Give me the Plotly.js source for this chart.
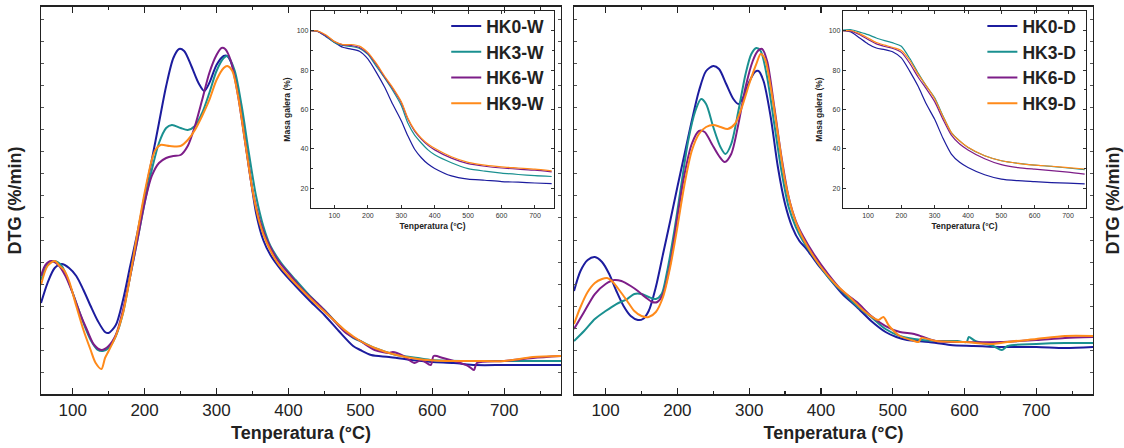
<!DOCTYPE html>
<html>
<head>
<meta charset="utf-8">
<script src="https://cdn.plot.ly/plotly-3.0.1.min.js"></script>
<style>html,body{margin:0;padding:0;background:#fff;}#chart{width:1124px;height:448px;}</style>
</head>
<body>
<div id="chart"></div>
<script>
// ---------- DTG, W series (left panel) ----------
const HK0W_T = [56,65,75,85,95,105,115,125,135,145,150,160,170,180,190,200,210,220,230,240,248,255,265,275,283,290,300,310,315,325,335,345,355,365,375,390,410,430,450,470,490,500,515,540,570,600,630,660,700,740,780];
const HK0W_DTG = [91,111,126,130,126,118,104,88,73,62,61,69,94,128,161,198,234,271,308,336,345,343,328,311,303,311,329,338,338,321,278,228,181,154,139,124,108,93,79,63,48,44,39,37,34,32,31,29,29,29,29];
const HK3W_T = [56,65,75,85,95,105,115,125,135,142,150,160,170,180,190,200,210,220,230,238,250,260,270,280,290,300,310,315,325,335,345,355,365,375,390,410,430,450,470,490,500,520,550,580,600,650,700,740,780];
const HK3W_DTG = [114,129,133,128,111,91,71,54,44,43,46,58,81,118,154,191,224,251,266,269,266,264,268,281,301,323,336,338,324,288,241,198,168,148,131,114,98,84,69,56,53,46,39,36,34,33,33,33,33];
const HK6W_T = [56,62,70,80,90,100,110,120,130,140,150,160,170,180,190,200,210,220,230,240,250,260,270,280,290,300,307,312,320,330,340,350,360,370,385,400,420,440,460,480,500,520,540,545,560,575,585,598,602,615,630,650,658,662,700,740,780];
const HK6W_DTG = [118,129,133,129,118,101,81,64,49,44,48,59,84,118,154,191,218,231,236,238,239,248,268,294,321,339,346,345,333,298,251,204,174,154,134,121,104,91,76,61,53,44,41,42,38,31,34,29,38,36,33,28,24,31,33,36,38];
const HK9W_T = [56,65,75,82,88,95,105,115,125,132,140,145,150,160,170,180,190,200,210,215,222,235,250,260,270,280,290,300,310,315,322,330,340,350,360,370,385,400,420,440,460,480,500,520,550,580,620,660,700,740,780];
const HK9W_DTG = [109,128,133,128,124,113,88,64,44,31,25,36,43,58,81,118,161,201,234,244,249,248,248,254,264,278,294,314,326,328,323,298,251,204,171,151,131,118,103,89,76,63,53,46,39,35,33,33,33,37,38];

// ---------- DTG, D series (right panel) ----------
const HK0D_T = [56,65,75,85,95,105,115,125,135,145,152,160,170,180,190,200,210,220,230,240,250,258,268,278,285,292,300,308,313,320,330,340,350,360,370,380,395,410,430,450,470,490,505,520,550,580,610,650,700,740,780];
const HK0D_DTG = [103,123,134,137,132,120,103,88,78,74,75,83,107,140,173,207,240,273,303,323,328,325,310,295,290,297,312,322,323,313,277,227,190,167,153,145,130,117,100,87,73,62,57,54,52,49,48,47,47,46,47];
const HK3D_T = [56,70,85,100,115,130,140,150,160,170,178,185,195,205,215,225,233,240,250,260,267,275,285,295,303,310,316,325,335,345,355,365,375,390,410,430,450,470,490,510,530,560,590,603,606,615,640,652,660,700,740,780];
const HK3D_DTG = [53,63,75,83,90,95,100,100,97,95,100,120,160,207,253,283,295,290,267,247,240,250,283,320,340,346,343,317,270,223,187,167,153,137,117,102,88,77,65,58,55,53,53,52,57,53,48,44,48,50,51,51];
const HK6D_T = [56,70,85,100,112,122,135,145,155,165,172,180,190,200,210,220,230,238,248,258,266,275,285,295,305,312,318,325,335,345,355,365,375,390,410,430,450,470,490,510,530,560,600,650,700,740,780];
const HK6D_DTG = [65,82,100,110,114,113,108,103,97,92,92,100,130,177,220,250,263,262,250,238,232,240,270,307,333,343,345,333,287,237,197,173,158,140,120,103,92,78,68,62,60,53,52,52,54,56,57];
const HK9D_T = [56,65,75,85,95,102,110,120,130,140,150,160,170,180,190,200,210,220,230,240,250,260,270,280,290,300,310,316,322,330,340,350,360,370,385,400,420,440,460,480,487,495,510,530,536,540,560,600,640,660,700,740,780];
const HK9D_DTG = [70,87,102,111,115,116,112,103,93,83,78,77,82,97,127,167,210,243,260,267,269,267,265,270,287,310,330,340,335,307,260,213,183,163,143,127,110,97,83,74,77,68,58,53,52,56,53,52,50,52,55,58,58];

// ---------- TG insets (Masa galera %) ----------
const TG_W_T = [30,50,75,100,125,150,175,200,225,250,275,300,320,340,360,380,400,450,500,550,600,650,700,750];
const HK0W_TG = [100,99.7,97,94.1,91.6,90.7,89.6,85.7,79,71.4,62.5,54.3,46.5,39.8,35.5,32.3,30.1,26.3,24.7,24.1,23.4,23.1,22.7,22.4];
const HK3W_TG = [100,99.7,97.3,94,92.5,92,91,88,82,76,69.5,62,53,47,43,39.5,37,33,30,28.7,27.7,27,26.4,26];
const HK6W_TG = [100,99.7,97.5,94.5,92.8,92.5,91.5,88.5,83,76.5,70.5,63.5,55,49,45,41.8,39.5,35.3,32.5,31.2,30.3,29.7,29.2,28.3];
const HK9W_TG = [100,99.8,97.8,94.5,93,93,92.2,89,83.5,77,71,64,55.5,49.5,45.5,42.5,40.3,36,33.2,31.8,30.9,30.3,29.7,28.8];

const TG_D_T = [25,50,75,100,125,150,175,200,225,250,275,300,325,350,375,400,450,500,550,600,650,700,750];
const HK0D_TG = [100,99.3,96.3,93.3,91.2,90.4,89.2,86.2,79.5,71.9,62.8,55,45.4,37.4,33.2,30.6,26.9,24.7,23.9,23.4,22.9,22.6,22.2];
const HK3D_TG = [100.3,100.5,99.3,98,96.3,95,93.8,92.1,86,78.6,71.9,66,56.7,48.3,44.1,40.7,36.5,34,32.7,31.8,31.1,30.3,29.5];
const HK6D_TG = [100,99.8,98,95.5,93.3,92,91,89,83.5,76.5,70.5,64,55,47,42.5,39.5,35,32,30.5,29.7,29,28.2,27.2];
const HK9D_TG = [100,100,98.5,96.3,94,92.7,91.5,90,85,78,72,65.5,56.5,48.3,44,40.8,36.5,34,32.7,31.8,31.2,30.5,29.8];

const NAMES_W = ['HK0-W','HK3-W','HK6-W','HK9-W'];
const NAMES_D = ['HK0-D','HK3-D','HK6-D','HK9-D'];
const COLORS = ['#1c1c9e','#1a9090','#7d1d88','#ff8a1a'];

const F = 'Arial, "Liberation Sans", sans-serif';

function mainTrace(x, y, name, color, xa, ya, leg) {
  return {x:x, y:y, name:'<b>'+name+'</b>', type:'scatter', mode:'lines',
    line:{color:color, width:2, shape:'spline', smoothing:0.8},
    xaxis:xa, yaxis:ya, legend:leg, showlegend:true, hoverinfo:'skip'};
}
function insetTrace(x, y, color, xa, ya) {
  return {x:x, y:y, type:'scatter', mode:'lines',
    line:{color:color, width:1.2, shape:'spline', smoothing:0.6},
    xaxis:xa, yaxis:ya, showlegend:false, hoverinfo:'skip'};
}

const traces = [
  mainTrace(HK0W_T, HK0W_DTG, NAMES_W[0], COLORS[0], 'x', 'y', 'legend'),
  mainTrace(HK3W_T, HK3W_DTG, NAMES_W[1], COLORS[1], 'x', 'y', 'legend'),
  mainTrace(HK6W_T, HK6W_DTG, NAMES_W[2], COLORS[2], 'x', 'y', 'legend'),
  mainTrace(HK9W_T, HK9W_DTG, NAMES_W[3], COLORS[3], 'x', 'y', 'legend'),
  mainTrace(HK0D_T, HK0D_DTG, NAMES_D[0], COLORS[0], 'x2', 'y2', 'legend2'),
  mainTrace(HK3D_T, HK3D_DTG, NAMES_D[1], COLORS[1], 'x2', 'y2', 'legend2'),
  mainTrace(HK6D_T, HK6D_DTG, NAMES_D[2], COLORS[2], 'x2', 'y2', 'legend2'),
  mainTrace(HK9D_T, HK9D_DTG, NAMES_D[3], COLORS[3], 'x2', 'y2', 'legend2'),
  insetTrace(TG_W_T, HK0W_TG, COLORS[0], 'x3', 'y3'),
  insetTrace(TG_W_T, HK3W_TG, COLORS[1], 'x3', 'y3'),
  insetTrace(TG_W_T, HK6W_TG, COLORS[2], 'x3', 'y3'),
  insetTrace(TG_W_T, HK9W_TG, COLORS[3], 'x3', 'y3'),
  insetTrace(TG_D_T, HK0D_TG, COLORS[0], 'x4', 'y4'),
  insetTrace(TG_D_T, HK3D_TG, COLORS[1], 'x4', 'y4'),
  insetTrace(TG_D_T, HK6D_TG, COLORS[2], 'x4', 'y4'),
  insetTrace(TG_D_T, HK9D_TG, COLORS[3], 'x4', 'y4')
];

function mainX(domain, anchor) {
  return {domain:domain, anchor:anchor, range:[56,779], tick0:0, dtick:100,
    ticks:'inside', ticklen:6, tickwidth:1.2, tickcolor:'#222',
    minor:{dtick:50, ticks:'inside', ticklen:3, tickwidth:1.2, tickcolor:'#222'},
    showline:true, linecolor:'#222', linewidth:1.5, mirror:'allticks',
    showgrid:false, zeroline:false,
    tickfont:{family:F, size:17, color:'#222'},
    title:{text:'<b>Tenperatura (°C)</b>', font:{family:F, size:18, color:'#222'}, standoff:7}};
}
function mainY(anchor, side) {
  return {domain:[0.1205,0.9844], anchor:anchor, side:side, range:[0,387], dtick:22,
    ticks:'inside', ticklen:3, tickwidth:1, tickcolor:'#555',
    showticklabels:false, showline:true, linecolor:'#222', linewidth:1.5, mirror:'allticks',
    showgrid:false, zeroline:false,
    title:{text:'<b>DTG (%/min)</b>', font:{family:F, size:18, color:'#222'}, standoff:13}};
}
function insetX(domain, anchor, range) {
  return {domain:domain, anchor:anchor, range:range, dtick:100, tick0:0,
    ticks:'inside', ticklen:3, tickwidth:1, tickcolor:'#333',
    showline:true, linecolor:'#222', linewidth:1.2, mirror:'allticks',
    showgrid:false, zeroline:false,
    tickfont:{family:F, size:7, color:'#333'},
    title:{text:'<b>Tenperatura (°C)</b>', font:{family:F, size:8.5, color:'#222'}, standoff:5}};
}
function insetY(anchor) {
  return {domain:[0.5357,0.9754], anchor:anchor, range:[10,110], tick0:0, dtick:20,
    ticks:'inside', ticklen:3, tickwidth:1, tickcolor:'#333',
    minor:{dtick:10, ticks:'inside', ticklen:2, tickwidth:1, tickcolor:'#333'},
    showline:true, linecolor:'#222', linewidth:1.2, mirror:'allticks',
    showgrid:false, zeroline:false,
    tickfont:{family:F, size:7, color:'#333'},
    title:{text:'<b>Masa galera (%)</b>', font:{family:F, size:8.5, color:'#222'}, standoff:4}};
}

const legendStyle = (x) => ({x:x, y:0.982, xanchor:'left', yanchor:'top',
  bgcolor:'rgba(0,0,0,0)', borderwidth:0, tracegroupgap:0,
  font:{family:F, size:17.5, color:'#222'}});

const layout = {
  width:1124, height:448,
  margin:{l:0, r:0, t:0, b:0},
  paper_bgcolor:'#fff', plot_bgcolor:'rgba(0,0,0,0)',
  showlegend:true,
  xaxis: mainX([0.0365,0.4991], 'y'),
  yaxis: mainY('x', 'left'),
  xaxis2: mainX([0.5107,0.9724], 'y2'),
  yaxis2: mainY('x2', 'right'),
  xaxis3: insetX([0.2767,0.4929], 'y3', [30,757]),
  yaxis3: insetY('x3'),
  xaxis4: insetX([0.75,0.9662], 'y4', [25,754]),
  yaxis4: insetY('x4'),
  legend: legendStyle(0.397),
  legend2: legendStyle(0.874)
};

Plotly.newPlot('chart', traces, layout, {staticPlot:true, displayModeBar:false});
</script>
</body>
</html>
